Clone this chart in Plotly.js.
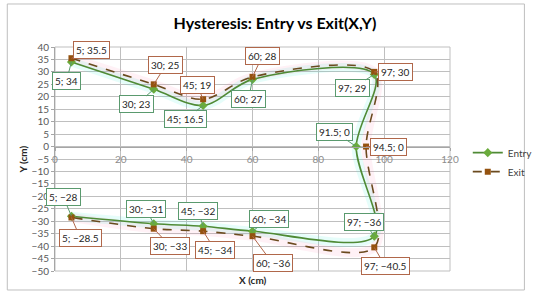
<!DOCTYPE html>
<html>
<head>
<meta charset="utf-8">
<script src="https://cdn.plot.ly/plotly-3.0.1.min.js"></script>
<style>
  html, body { margin: 0; padding: 0; background: #fff; }
  #chart { width: 550px; height: 295px; }
</style>
</head>
<body>
<div id="chart"></div>
<script>
// Entry / Exit path
const entryX = [5, 30, 45, 60, 97, 91.5, 97, 60, 45, 30, 5];
const entryY = [34, 23, 16.5, 27, 29, 0, -36, -34, -32, -31, -28];
const exitX = [5, 30, 45, 60, 97, 94.5, 97, 60, 45, 30, 5];
const exitY = [35.5, 25, 19, 28, 30, 0, -40.5, -36, -34, -33, -28.5];

// label offsets in px (callout placement)
const entryOff = [[-5, 19], [-17, 15], [-18, 14], [-4, 20], [-22, 14], [-22, -15],
                  [-10, -14], [16, -12], [-5, -15], [-8, -15], [-8, -19]];
const exitOff = [[20, -8], [12, -19], [-6, -14], [10, -21], [21, 0], [22, 0],
                 [11, 19], [20, 27], [12, 19], [16, 17], [9, 21]];

const fmt = v => String(v).replace('-', '\u2212');

function labels(xs, ys, offs, border) {
  return xs.map((x, i) => ({
    x: x, y: ys[i], xref: 'x', yref: 'y',
    text: fmt(x) + '; ' + fmt(ys[i]),
    showarrow: true, arrowhead: 0, arrowwidth: 1, arrowcolor: border,
    ax: offs[i][0], ay: offs[i][1],
    bgcolor: '#ffffff', bordercolor: border, borderwidth: 1, borderpad: 2,
    font: { family: 'Lato, sans-serif', size: 10, color: '#262626' }
  }));
}

const traces = [
  // soft glow behind the lines
  { x: entryX, y: entryY, type: 'scatter', mode: 'lines', showlegend: false, hoverinfo: 'skip',
    line: { shape: 'spline', smoothing: 0.9, color: 'rgba(80,240,220,0.14)', width: 9 } },
  { x: exitX, y: exitY, type: 'scatter', mode: 'lines', showlegend: false, hoverinfo: 'skip',
    line: { shape: 'spline', smoothing: 0.9, color: 'rgba(255,120,170,0.10)', width: 9 } },
  {
    x: entryX, y: entryY, name: 'Entry', type: 'scatter', mode: 'lines+markers',
    line: { shape: 'spline', smoothing: 0.9, color: '#4f8a35', width: 1.6 },
    marker: { symbol: 'diamond', size: 7, color: '#6aab3c' }
  },
  {
    x: exitX, y: exitY, name: 'Exit', type: 'scatter', mode: 'lines+markers',
    line: { shape: 'spline', smoothing: 0.9, color: '#6b4a1e', width: 1.6, dash: 'dash' },
    marker: { symbol: 'square', size: 6, color: '#94520f' }
  }
];

const layout = {
  width: 550, height: 295,
  margin: { l: 55, r: 81, t: 47, b: 24 },
  paper_bgcolor: '#ffffff', plot_bgcolor: '#ffffff',
  font: { family: 'Lato, sans-serif', size: 10, color: '#595959' },
  title: {
    text: '<b>Hysteresis: Entry vs Exit(X,Y)</b>',
    font: { family: 'Lato, sans-serif', size: 16, color: '#000000' },
    x: 0.5, xref: 'container', y: 0.922, yref: 'container', yanchor: 'middle'
  },
  xaxis: {
    range: [0, 120], dtick: 20, tick0: 0,
    anchor: 'free', position: 50 / 90,
    showgrid: true, gridcolor: '#bfbfbf', gridwidth: 1,
    showline: true, linecolor: '#a6a6a6', zeroline: false,
    ticks: 'outside', ticklen: 3, tickcolor: '#a6a6a6',
    tickfont: { size: 10, color: '#8c8c8c' }
  },
  yaxis: {
    range: [-50, 40], dtick: 5, tick0: 0,
    showgrid: true, gridcolor: '#bfbfbf', gridwidth: 1,
    showline: true, linecolor: '#a6a6a6', zeroline: false,
    ticks: 'outside', ticklen: 3, tickcolor: '#a6a6a6',
    tickfont: { size: 10, color: '#595959' }
  },
  showlegend: true,
  legend: {
    x: 1.045, y: 0.593, xanchor: 'left', yanchor: 'top',
    font: { size: 10, color: '#404040' }, tracegroupgap: 2,
    bgcolor: 'rgba(0,0,0,0)'
  },
  shapes: [
    // outer chart border
    { type: 'rect', xref: 'paper', yref: 'paper', x0: -0.1208, x1: 1.1884, y0: -0.0848, y1: 1.192,
      line: { color: '#bfbfbf', width: 1 }, layer: 'below' },
    // top / right edges of plot area
    { type: 'rect', xref: 'paper', yref: 'paper', x0: 0, x1: 1, y0: 0, y1: 1,
      line: { color: '#bfbfbf', width: 1 }, layer: 'below' }
  ],
  annotations: [
    ...labels(entryX, entryY, entryOff, '#5a9a6e'),
    ...labels(exitX, exitY, exitOff, '#b0674a'),
    { text: '<b>X (cm)</b>', xref: 'paper', yref: 'paper', x: 0.5, y: -0.04,
      xanchor: 'center', yanchor: 'middle',
      showarrow: false, font: { size: 10, color: '#262626' } },
    { text: '<b>Y (cm)</b>', xref: 'paper', yref: 'paper', x: -0.08, y: 0.5, textangle: -90,
      xanchor: 'center', yanchor: 'middle',
      showarrow: false, font: { size: 10, color: '#262626' } }
  ]
};

Plotly.newPlot('chart', traces, layout, { displayModeBar: false, staticPlot: true });
</script>
</body>
</html>
